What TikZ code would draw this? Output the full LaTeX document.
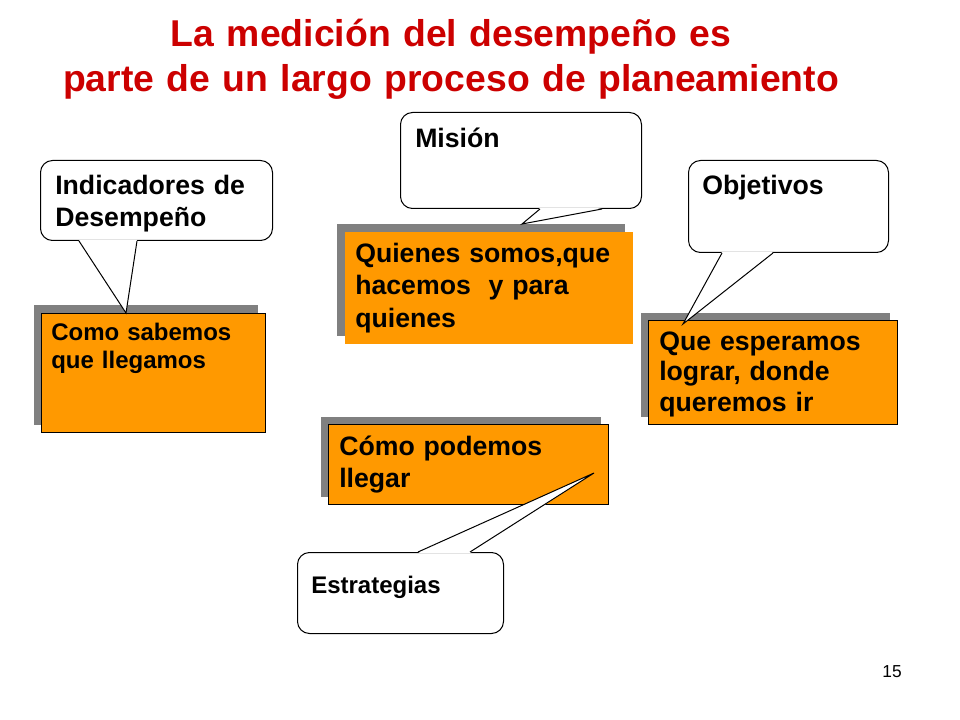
\documentclass[tikz,border=0pt]{standalone}
\usepackage{fontspec}
\setmainfont{Liberation Sans}
\usetikzlibrary{positioning,shadows}

\definecolor{slidered}{RGB}{204,0,0}
\definecolor{boxorange}{RGB}{255,153,0}
\definecolor{shadowgray}{RGB}{128,128,128}

\tikzset{
  goalbox/.style={rectangle, fill=boxorange, draw=black, line width=0.75pt,
    inner sep=0pt, anchor=north west,
    general shadow={fill=shadowgray, shadow xshift=-6pt, shadow yshift=6pt}},
  bubble/.style={rectangle, rounded corners=9pt, fill=white, draw=black,
    line width=0.75pt, inner sep=0pt, anchor=north west},
  tail/.style={draw=black, line width=0.75pt, line join=miter},
  boxtext/.style={anchor=base west, inner sep=0pt, text width=8cm, align=left,
    font=\fontsize{20}{24}\selectfont\bfseries},
  smalltext/.style={boxtext, font=\fontsize{18}{21}\selectfont\bfseries},
  titletext/.style={anchor=base, inner sep=0pt, text width=28cm, align=center,
    text=slidered, font=\fontsize{28}{33.6}\selectfont\bfseries},
}

\begin{document}
\begin{tikzpicture}[x=0.75pt, y=-0.75pt]
  \useasboundingbox (0,0) rectangle (960,720);

  % title
  \node[titletext] (title) at (451,47)
    {La medición del desempeño es\\parte de un largo proceso de planeamiento};

  % orange boxes
  \node[goalbox, minimum width=168pt, minimum height=89.25pt] (como) at (41,313) {};
  \node[goalbox, draw=none, minimum width=216pt, minimum height=83.25pt] (quien) at (344,232) {};
  \node[goalbox, minimum width=186.75pt, minimum height=78pt] (espera) at (648,320) {};
  \node[goalbox, minimum width=210pt, minimum height=60pt] (podemos) at (328,424) {};

  \node[smalltext] (como-t) at (51,340) {Como sabemos\\que llegamos};
  \node[boxtext] (quien-t) at (355,263) {Quienes somos,que\\hacemos\ \ y para\\quienes};
  \node[boxtext, font=\fontsize{20}{23}\selectfont\bfseries] (espera-t) at (659,350)
    {Que esperamos\\lograr, donde\\queremos ir};
  \node[boxtext] (podemos-t) at (339,455) {Cómo podemos\\llegar};

  % callouts
  \node[bubble, minimum width=174pt, minimum height=60pt] (ind) at (40,160) {};
  \coordinate (ind-tip) at ([shift={(85,0)}]como.north west);
  \fill[white] ([shift={(39,-1)}]ind.south west) -- (ind-tip) -- ([shift={(97,-1)}]ind.south west) -- cycle;
  \draw[tail] ([shift={(39,0)}]ind.south west) -- (ind-tip) -- ([shift={(97,0)}]ind.south west);
  \node[boxtext] (ind-t) at (55,195) {Indicadores de\\Desempeño};

  \node[bubble, minimum width=180.75pt, minimum height=72pt] (mis) at (400,112) {};
  \coordinate (mis-tip) at ([shift={(178,-8)}]quien.north west);
  \fill[white] ([shift={(140,-1)}]mis.south west) -- (mis-tip) -- ([shift={(202,-1)}]mis.south west) -- cycle;
  \draw[tail] ([shift={(140,0)}]mis.south west) -- (mis-tip) -- ([shift={(202,0)}]mis.south west);
  \node[boxtext] (mis-t) at (415,148) {Misión};

  \node[bubble, minimum width=150pt, minimum height=69pt] (obj) at (688,160) {};
  \coordinate (obj-tip) at ([shift={(35,4)}]espera.north west);
  \fill[white] ([shift={(34,-1)}]obj.south west) -- (obj-tip) -- ([shift={(85,-1)}]obj.south west) -- cycle;
  \draw[tail] ([shift={(34,0)}]obj.south west) -- (obj-tip) -- ([shift={(85,0)}]obj.south west);
  \node[boxtext] (obj-t) at (702,195) {Objetivos};

  \node[bubble, minimum width=154.5pt, minimum height=60.75pt] (est) at (297,552) {};
  \coordinate (est-tip) at ([shift={(266,49)}]podemos.north west);
  \fill[white] ([shift={(121,1)}]est.north west) -- (est-tip) -- ([shift={(173,1)}]est.north west) -- cycle;
  \draw[tail] ([shift={(121,0)}]est.north west) -- (est-tip) -- ([shift={(173,0)}]est.north west);
  \node[smalltext] (est-t) at (311,593) {Estrategias};

  % slide number
  \node[anchor=base east, inner sep=0pt, font=\fontsize{13}{15}\selectfont] (page) at (902,677) {15};
\end{tikzpicture}
\end{document}
